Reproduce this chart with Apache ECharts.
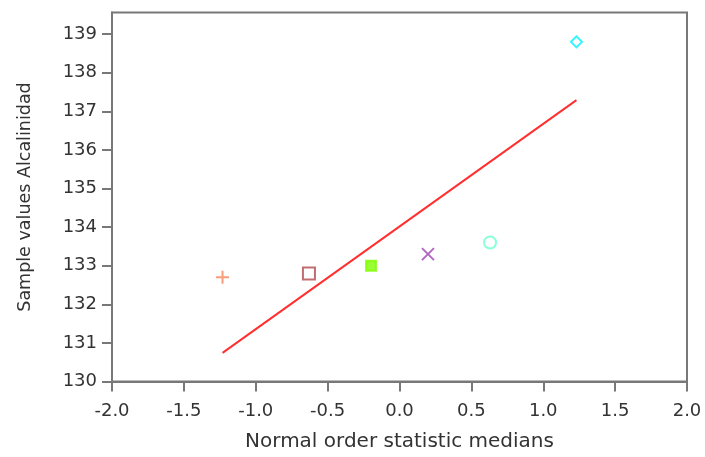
<!DOCTYPE html>
<html>
<head>
<meta charset="utf-8">
<script src="https://cdn.jsdelivr.net/npm/echarts@6/dist/echarts.min.js"></script>
<style>html,body{margin:0;padding:0;background:#fff}#c{width:705px;height:457px}</style>
</head>
<body>
<div id="c"></div>
<script>
const xMedians = [-1.231, -0.630, -0.198, 0.198, 0.630, 1.231];
const sampleValues = [132.7, 132.8, 133.0, 133.3, 133.6, 138.8];
const fitLineX = [-1.231, 1.231];
const fitLineY = [130.74, 137.29];
const xTicks = [-2.0, -1.5, -1.0, -0.5, 0.0, 0.5, 1.0, 1.5, 2.0];
const yTicks = [130, 131, 132, 133, 134, 135, 136, 137, 138, 139];

const markerStyles = [
  {symbol: 'path://M5,0L5,10M0,5L10,5', size: 13, color: 'none', border: '#f7845a'},
  {symbol: 'rect', size: 12, color: 'none', border: '#b04a4e'},
  {symbol: 'rect', size: 10, color: '#80ff00', border: '#80ff00'},
  {symbol: 'path://M0,0L10,10M10,0L0,10', size: 12, color: 'none', border: '#a043b4'},
  {symbol: 'circle', size: 12, color: 'none', border: '#6effcc'},
  {symbol: 'diamond', size: 11, color: 'none', border: '#00f2ff'}
];

const font = '"DejaVu Sans", sans-serif';
const scatterSeries = xMedians.map((x, i) => {
  const s = markerStyles[i];
  return {
    type: 'scatter',
    data: [[x, sampleValues[i]]],
    symbol: s.symbol,
    symbolSize: s.size,
    itemStyle: {color: s.color, borderColor: s.border, borderWidth: 2},
    z: 3
  };
});

const chart = echarts.init(document.getElementById('c'), null, {renderer: 'canvas'});
chart.setOption({
  animation: false,
  grid: {left: 112, right: 18, top: 12.5, bottom: 75.5, show: true, borderColor: '#787878', borderWidth: 2, backgroundColor: '#fff'},
  xAxis: {
    type: 'value', min: -2, max: 2, interval: 0.5,
    name: 'Normal order statistic medians', nameLocation: 'middle', nameGap: 50,
    nameTextStyle: {fontFamily: font, fontSize: 20, color: '#333'},
    axisLine: {show: true, onZero: false, lineStyle: {color: '#787878', width: 2}},
    axisTick: {show: true, length: 10, lineStyle: {color: '#787878', width: 2}},
    axisLabel: {fontFamily: font, fontSize: 18, color: '#333', margin: 21, formatter: v => v.toFixed(1), customValues: xTicks},
    splitLine: {show: false}
  },
  yAxis: {
    type: 'value', min: 130, max: 139.56,
    name: 'Sample values Alcalinidad', nameLocation: 'middle', nameGap: 78,
    nameTextStyle: {fontFamily: font, fontSize: 17.5, color: '#333'},
    axisLine: {show: true, onZero: false, lineStyle: {color: '#787878', width: 2}},
    axisTick: {show: true, length: 10, lineStyle: {color: '#787878', width: 2}, customValues: yTicks},
    axisLabel: {fontFamily: font, fontSize: 18, color: '#333', margin: 15, customValues: yTicks},
    splitLine: {show: false}
  },
  series: [
    {
      type: 'line',
      data: fitLineX.map((x, i) => [x, fitLineY[i]]),
      symbol: 'none',
      lineStyle: {color: '#ff3030', width: 2},
      z: 2
    }
  ].concat(scatterSeries)
});
</script>
</body>
</html>
